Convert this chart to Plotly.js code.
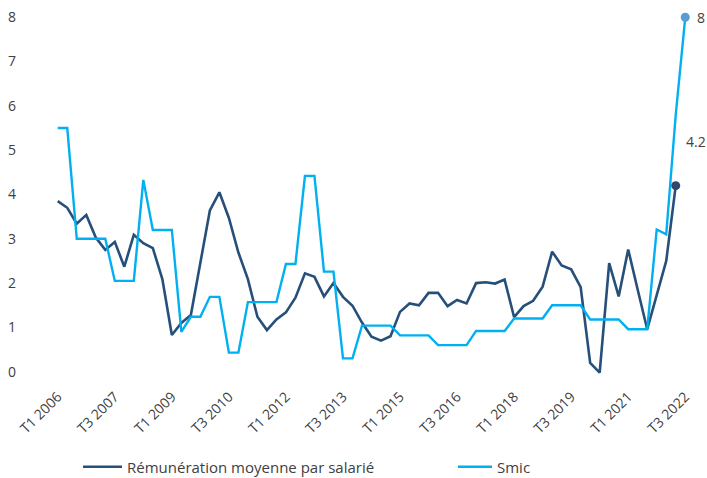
<!DOCTYPE html>
<html>
<head>
<meta charset="utf-8">
<script src="https://cdn.plot.ly/plotly-3.0.1.min.js"></script>
<style>
  html, body { margin: 0; padding: 0; background: #fff; }
  #chart { width: 707px; height: 478px; }
</style>
</head>
<body>
<div id="chart"></div>
<script>
// Quarterly series, T1 2006 to T3 2022 (year-on-year change, %)
const startYear = 2006;
const quarterCount = 67;

const remunerationName = "Rémunération moyenne par salarié";
const remuneration = [
  3.85, 3.7, 3.34, 3.54, 3.03, 2.75, 2.93, 2.37, 3.09, 2.9,
  2.79, 2.09, 0.83, 1.1, 1.28, 2.45, 3.64, 4.05, 3.47, 2.69,
  2.09, 1.24, 0.94, 1.18, 1.34, 1.67, 2.22, 2.14, 1.7, 2.0,
  1.69, 1.49, 1.11, 0.79, 0.7, 0.8, 1.35, 1.54, 1.5, 1.78,
  1.78, 1.48, 1.62, 1.54, 2.0, 2.02, 1.99, 2.08, 1.23, 1.48,
  1.6, 1.92, 2.71, 2.4, 2.31, 1.91, 0.2, -0.02, 2.45, 1.7,
  2.76, 1.85, 0.96, 1.73, 2.5, 4.2
];

const smicName = "Smic";
const smic = [
  5.5, 5.5, 3.0, 3.0, 3.0, 3.0, 2.05, 2.05, 2.05, 4.33,
  3.2, 3.2, 3.2, 0.9, 1.24, 1.24, 1.69, 1.69, 0.43, 0.43,
  1.57, 1.57, 1.57, 1.57, 2.43, 2.43, 4.42, 4.42, 2.26, 2.26,
  0.3, 0.3, 1.04, 1.04, 1.04, 1.04, 0.82, 0.82, 0.82, 0.82,
  0.6, 0.6, 0.6, 0.6, 0.92, 0.92, 0.92, 0.92, 1.2, 1.2,
  1.2, 1.2, 1.5, 1.5, 1.5, 1.5, 1.18, 1.18, 1.18, 1.18,
  0.96, 0.96, 0.96, 3.21, 3.1, 5.8, 8.0
];

const tickLabels = [
  "T1 2006", "T3 2007", "T1 2009", "T3 2010", "T1 2012", "T3 2013",
  "T1 2015", "T3 2016", "T1 2018", "T3 2019", "T1 2021", "T3 2022"
];

// Quarter labels "T1 2006", "T2 2006", ...
const quarters = [];
for (let i = 0; i < quarterCount; i++) {
  quarters.push("T" + (i % 4 + 1) + " " + (startYear + Math.floor(i / 4)));
}

const darkBlue = "#264f79";
const lightBlue = "#00b0f0";

const remX = quarters.slice(0, remuneration.length);
const remLastX = remX[remX.length - 1];
const remLast = remuneration[remuneration.length - 1];
const smicLastX = quarters[smic.length - 1];
const smicLast = smic[smic.length - 1];

const traces = [
  {
    x: remX, y: remuneration, name: remunerationName,
    type: "scatter", mode: "lines", legend: "legend",
    line: { color: darkBlue, width: 2.6 }
  },
  {
    x: quarters.slice(0, smic.length), y: smic, name: smicName,
    type: "scatter", mode: "lines", legend: "legend2",
    line: { color: lightBlue, width: 2.4 }
  },
  {
    x: [remLastX], y: [remLast], type: "scatter", mode: "markers",
    marker: { color: "#33476b", size: 9 }, showlegend: false, hoverinfo: "skip",
    cliponaxis: false
  },
  {
    x: [smicLastX], y: [smicLast], type: "scatter", mode: "markers",
    marker: { color: "#5b9bd5", size: 9 }, showlegend: false, hoverinfo: "skip",
    cliponaxis: false
  }
];

const textColor = "#404040";
const family = "'Open Sans', 'Noto Sans', sans-serif";

const legendBase = {
  orientation: "h",
  xref: "container", yref: "container",
  y: (478 - 467) / 478,
  xanchor: "left", yanchor: "middle",
  font: { family: family, size: 15, color: textColor },
  bgcolor: "rgba(0,0,0,0)"
};

const layout = {
  width: 707, height: 478,
  margin: { l: 52.5, r: 17.2, t: 4, b: 93 },
  paper_bgcolor: "#ffffff",
  plot_bgcolor: "#ffffff",
  font: { family: family, size: 14, color: textColor },
  showlegend: true,
  xaxis: {
    type: "category",
    categoryorder: "array",
    categoryarray: quarters,
    range: [-0.5, quarterCount - 0.5],
    tickmode: "array",
    tickvals: tickLabels,
    ticktext: tickLabels,
    tickangle: -45,
    ticks: "",
    showgrid: false,
    zeroline: false,
    showline: false,
    tickfont: { family: family, size: 14, color: textColor }
  },
  yaxis: {
    range: [-0.3, 8.3],
    tickmode: "array",
    tickvals: [0, 1, 2, 3, 4, 5, 6, 7, 8],
    ticks: "",
    showgrid: false,
    zeroline: false,
    showline: false,
    ticklabelstandoff: 36,
    tickfont: { family: family, size: 14, color: textColor }
  },
  legend: Object.assign({}, legendBase, { x: 78 / 707, itemwidth: 39 }),
  legend2: Object.assign({}, legendBase, { x: 453 / 707, itemwidth: 34 }),
  annotations: [
    {
      x: smicLastX, y: smicLast, xref: "x", yref: "y",
      text: String(smicLast), showarrow: false,
      xshift: 16, yshift: 0,
      font: { family: family, size: 14, color: textColor }
    },
    {
      x: remLastX, y: remLast, xref: "x", yref: "y",
      text: remLast.toFixed(1), showarrow: false,
      xshift: 20, yshift: 44,
      font: { family: family, size: 14, color: textColor }
    }
  ]
};

Plotly.newPlot("chart", traces, layout, { staticPlot: true, displayModeBar: false });
</script>
</body>
</html>
